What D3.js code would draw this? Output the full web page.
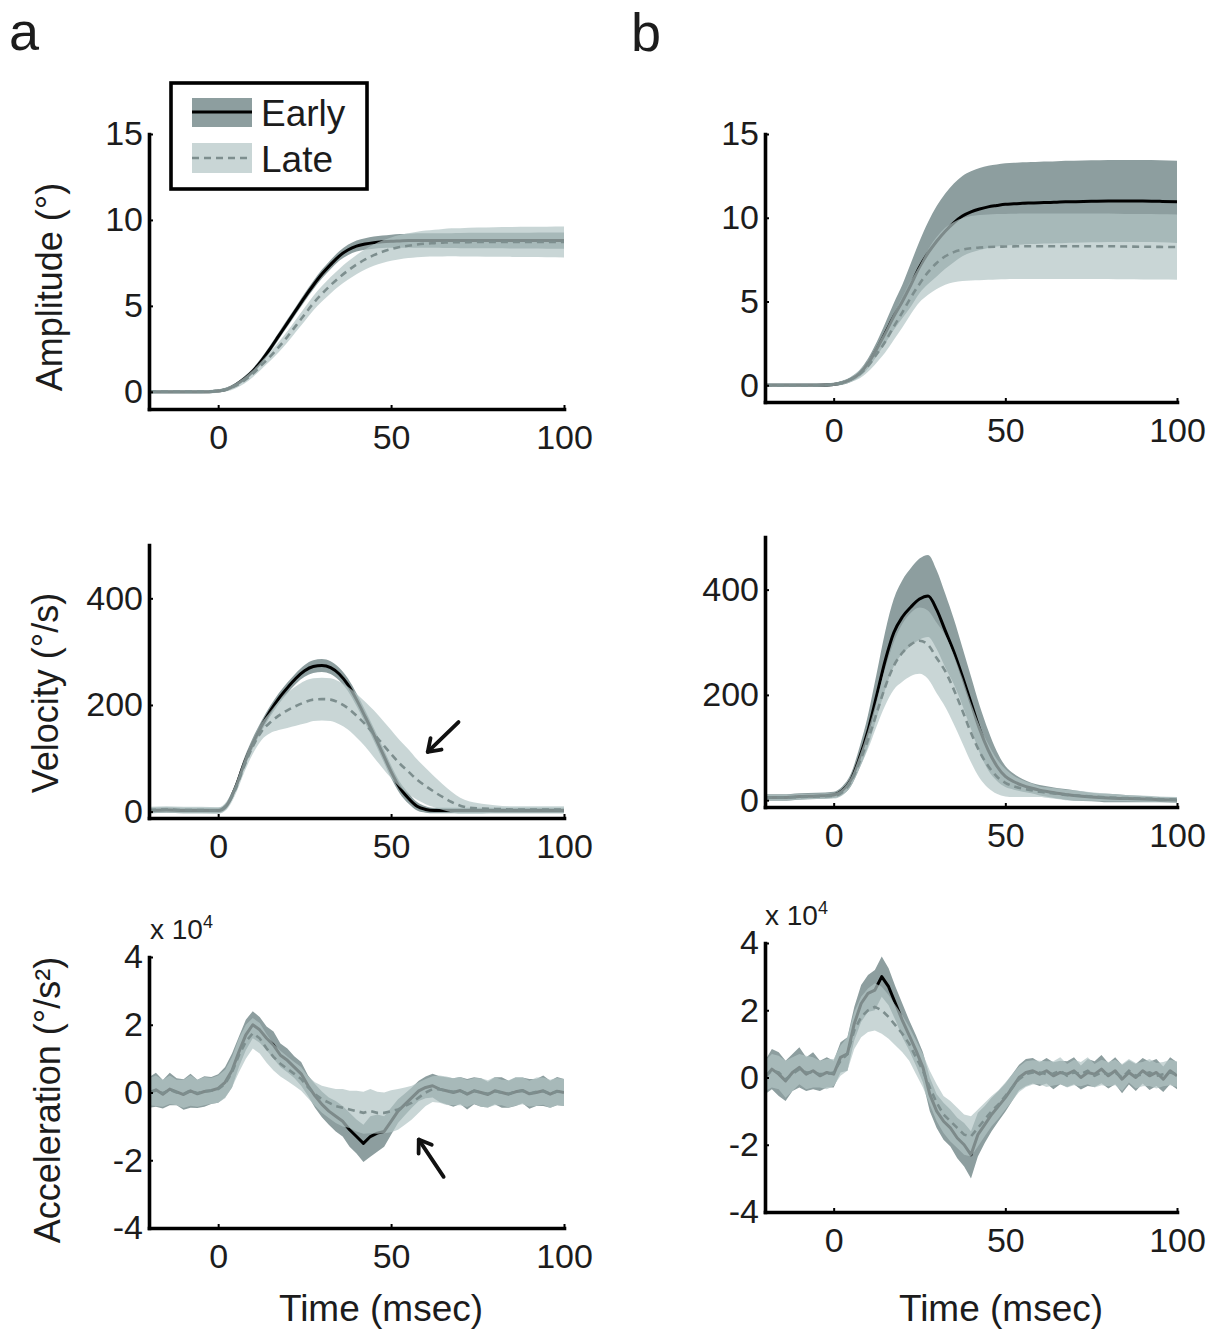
<!DOCTYPE html>
<html><head><meta charset="utf-8">
<script src="https://cdn.jsdelivr.net/npm/d3@7"></script>
<style>
body{margin:0;background:#fff}
svg{display:block}
text{font-family:"Liberation Sans",Arial,Helvetica,sans-serif;fill:#1c1c1c}
</style>
</head><body>
<svg id="c" width="1223" height="1332"></svg>
<script>
// ---------- time grids (msec) ----------
const tAV = [-20,-15,-10,-5,0,2.5,5,7.5,10,12.5,15,17.5,20,22.5,25,27.5,30,32.5,35,37.5,40,42.5,45,47.5,50,52.5,55,57.5,60,62.5,65,67.5,70,75,80,85,90,95,100];
const tAcc = [-20,-18,-16,-14,-12,-10,-8,-6,-4,-2,0,2,4,6,8,10,12,14,16,18,20,22,24,26,28,30,32,34,36,38,40,42,44,46,48,50,52,54,56,58,60,62,64,66,68,70,72,74,76,78,80,82,84,86,88,90,92,94,96,98,100];

// ---------- tick labels ----------
const xTicks = [0,50,100];
const ampTicks = [0,5,10,15];
const velTicks = [0,200,400];
const accTicks = [-4,-2,0,2,4];

// ---------- panel a: amplitude (deg) ----------
const ampA_early    = [0,0,0,0, 0.05,0.15,0.4,0.75,1.2,1.8,2.5,3.25,4.0,4.75,5.5,6.2,6.85,7.4,7.9,8.25,8.48,8.6,8.68,8.73,8.76,8.78,8.8,8.8,8.8,8.8,8.8,8.8,8.8, 8.8,8.8,8.8,8.8,8.8,8.8];
const ampA_earlySd  = [0.08,0.08,0.08,0.08, 0.08,0.1,0.12,0.14,0.16,0.18,0.2,0.2,0.22,0.22,0.24,0.25,0.26,0.27,0.28,0.3,0.32,0.33,0.35,0.36,0.38,0.4,0.4,0.42,0.42,0.42,0.43,0.43,0.44, 0.45,0.45,0.46,0.46,0.47,0.47];
const ampA_late     = [0,0,0,0, 0.05,0.15,0.35,0.65,1.05,1.55,2.05,2.6,3.2,3.85,4.5,5.15,5.7,6.2,6.65,7.05,7.4,7.7,7.95,8.15,8.3,8.42,8.5,8.57,8.62,8.65,8.68,8.7,8.7, 8.72,8.72,8.72,8.72,8.72,8.72];
const ampA_lateSd   = [0.1,0.1,0.1,0.1, 0.1,0.12,0.15,0.18,0.2,0.23,0.26,0.3,0.33,0.36,0.39,0.42,0.45,0.48,0.5,0.53,0.56,0.59,0.62,0.65,0.68,0.7,0.72,0.74,0.76,0.78,0.8,0.81,0.82, 0.84,0.86,0.87,0.88,0.89,0.9];

// ---------- panel b: amplitude (deg) ----------
const ampB_early    = [0,0,0,0, 0.05,0.15,0.35,0.7,1.3,2.15,3.1,4.1,5.0,6.0,7.05,7.9,8.6,9.2,9.7,10.1,10.35,10.52,10.65,10.73,10.8,10.83,10.86,10.88,10.9,10.91,10.93,10.95,10.96, 10.98,11.0,11.0,11.0,10.98,10.95];
const ampB_earlySd  = [0.1,0.1,0.1,0.1, 0.1,0.12,0.15,0.2,0.3,0.42,0.6,0.8,1.0,1.3,1.55,1.85,2.1,2.25,2.35,2.4,2.43,2.45,2.45,2.45,2.45,2.45,2.45,2.45,2.45,2.45,2.45,2.45,2.45, 2.45,2.45,2.45,2.45,2.45,2.45];
const ampB_late     = [0,0,0,0, 0.05,0.15,0.35,0.65,1.15,1.85,2.6,3.5,4.35,5.25,6.05,6.75,7.3,7.7,7.95,8.1,8.18,8.22,8.25,8.27,8.28,8.29,8.3,8.3,8.3,8.3,8.3,8.3,8.3, 8.3,8.3,8.28,8.27,8.26,8.25];
const ampB_lateSd   = [0.1,0.1,0.1,0.1, 0.1,0.12,0.15,0.25,0.35,0.5,0.65,0.8,0.9,1.0,1.1,1.35,1.55,1.7,1.8,1.87,1.92,1.95,1.95,1.95,1.95,1.95,1.95,1.95,1.95,1.95,1.95,1.95,1.95, 1.95,1.95,1.95,1.95,1.95,1.95];

// ---------- panel a: velocity (deg/s) ----------
const velA_early    = [2,3,2,2, 2,12,45,90,128,160,188,212,232,250,264,272,274,270,258,238,210,178,145,110,75,45,25,10,4,2,2,2,2, 2,2,2,2,2,2];
const velA_earlySd  = [5,5,5,5, 5,6,8,10,10,10,10,10,10,10,11,12,12,12,12,12,12,12,12,12,12,11,10,8,6,5,5,5,5, 5,5,5,5,5,5];
const velA_late     = [3,4,3,3, 2,12,42,85,122,150,167,180,190,198,205,210,211,210,204,194,180,164,146,127,108,90,75,60,48,37,27,18,11, 6,5,4,4,4,4];
const velA_lateSd   = [6,6,6,6, 6,8,10,12,14,16,20,27,33,37,40,40,40,40,40,40,41,42,44,45,45,44,42,38,34,29,24,19,15, 10,7,6,6,6,6];

// ---------- panel b: velocity (deg/s) ----------
const velB_early    = [5,5,7,8, 10,18,38,80,132,198,265,318,348,367,382,388,362,322,282,235,185,135,95,65,45,35,28,23,19,16,13,11,9, 6,4,3,2,1,0];
const velB_earlySd  = [6,6,6,6, 6,8,12,20,30,42,55,64,70,74,77,78,75,70,62,55,50,45,38,28,20,15,12,10,10,10,10,10,10, 8,8,7,6,5,5];
const velB_late     = [5,5,6,7, 8,15,35,72,115,165,215,255,280,296,303,295,270,245,210,170,128,92,65,45,33,26,22,19,16,14,12,10,9, 7,5,4,3,2,1];
const velB_lateSd   = [5,5,5,5, 5,6,8,12,18,25,35,45,55,60,63,65,67,68,66,62,56,50,42,33,26,20,16,13,10,10,10,10,10, 8,7,6,6,5,5];

// ---------- panel a: acceleration (x10^4 deg/s^2) ----------
const accA_early   = [0.0,0.08,-0.05,0.1,0.02,-0.06,0.05,-0.04,0.03,0.06, 0.12,0.3,0.65,1.2,1.7,2.0,1.85,1.6,1.4,1.1, 0.95,0.75,0.55,0.2,-0.1,-0.35,-0.55,-0.7,-0.85,-1.1, -1.3,-1.5,-1.3,-1.2,-1.15,-0.85,-0.55,-0.35,-0.15,0.05, 0.15,0.2,0.1,0.05,0.0,0.06,-0.05,0.05,0.0,-0.06, 0.05,0.0,-0.05,0.02,0.06,-0.04,0.0,0.05,-0.05,0.04, 0.0];
const accA_earlySd = [0.45,0.5,0.42,0.48,0.4,0.45,0.5,0.42,0.45,0.4, 0.42,0.45,0.5,0.45,0.45,0.4,0.38,0.35,0.4,0.35, 0.35,0.32,0.35,0.3,0.35,0.38,0.4,0.45,0.45,0.5, 0.5,0.55,0.6,0.55,0.45,0.4,0.35,0.32,0.3,0.3, 0.32,0.35,0.38,0.4,0.42,0.4,0.45,0.4,0.42,0.38, 0.4,0.45,0.4,0.42,0.38,0.44,0.4,0.45,0.4,0.42, 0.4];
const accA_late    = [0.02,0.05,-0.02,0.08,0.0,-0.04,0.06,-0.02,0.04,0.05, 0.1,0.25,0.6,1.1,1.5,1.75,1.6,1.3,1.05,0.85, 0.7,0.55,0.4,0.15,-0.05,-0.2,-0.3,-0.4,-0.45,-0.5, -0.55,-0.6,-0.55,-0.6,-0.6,-0.55,-0.5,-0.4,-0.3,-0.15, 0.0,0.1,0.1,0.05,0.02,0.04,-0.03,0.05,0.0,-0.04, 0.04,0.0,-0.04,0.03,0.05,-0.03,0.02,0.04,-0.04,0.03, 0.0];
const accA_lateSd  = [0.4,0.45,0.4,0.42,0.38,0.42,0.45,0.4,0.42,0.38, 0.4,0.42,0.45,0.5,0.5,0.45,0.45,0.42,0.4,0.38, 0.36,0.35,0.35,0.32,0.35,0.4,0.45,0.5,0.55,0.55, 0.6,0.62,0.65,0.62,0.6,0.62,0.6,0.55,0.5,0.45, 0.4,0.38,0.4,0.42,0.4,0.42,0.4,0.38,0.42,0.4, 0.42,0.38,0.4,0.42,0.4,0.38,0.42,0.4,0.42,0.4, 0.4];

// ---------- panel b: acceleration (x10^4 deg/s^2) ----------
const accB_early   = [0.0,0.25,0.1,-0.1,0.15,0.3,0.1,0.2,0.05,0.15, 0.1,0.6,0.7,1.6,2.2,2.5,2.6,3.0,2.7,2.2, 1.7,1.25,0.8,0.3,-0.5,-1.0,-1.3,-1.5,-1.8,-2.0, -2.3,-1.7,-1.4,-1.1,-0.85,-0.6,-0.3,0.0,0.15,0.2, 0.1,0.2,0.05,0.15,0.1,0.2,0.0,0.15,0.1,0.25, 0.05,0.2,-0.05,0.15,0.0,0.2,0.05,0.15,-0.05,0.2, 0.05];
const accB_earlySd = [0.5,0.6,0.65,0.6,0.55,0.6,0.5,0.55,0.45,0.45, 0.4,0.45,0.5,0.5,0.55,0.55,0.6,0.6,0.55,0.5, 0.5,0.45,0.45,0.45,0.5,0.5,0.55,0.55,0.6,0.65, 0.7,0.65,0.55,0.5,0.45,0.42,0.4,0.38,0.4,0.38, 0.35,0.38,0.4,0.35,0.38,0.4,0.36,0.4,0.38,0.42, 0.38,0.4,0.42,0.36,0.4,0.38,0.42,0.4,0.38,0.4, 0.4];
const accB_late    = [0.05,0.2,0.15,-0.05,0.1,0.25,0.15,0.15,0.1,0.1, 0.15,0.5,0.7,1.4,1.8,2.0,2.1,2.0,1.8,1.55, 1.3,1.0,0.6,0.2,-0.3,-0.75,-1.1,-1.3,-1.5,-1.7, -1.75,-1.5,-1.25,-1.0,-0.8,-0.55,-0.3,-0.05,0.1,0.15, 0.15,0.1,0.12,0.2,0.05,0.15,0.1,0.2,0.05,0.15, 0.1,0.15,0.0,0.2,0.05,0.1,0.15,0.05,0.1,0.15, 0.1];
const accB_lateSd  = [0.45,0.5,0.5,0.55,0.5,0.45,0.5,0.45,0.4,0.45, 0.4,0.45,0.5,0.55,0.6,0.65,0.7,0.7,0.65,0.6, 0.55,0.5,0.5,0.5,0.5,0.55,0.55,0.6,0.6,0.6, 0.6,0.55,0.5,0.45,0.42,0.4,0.4,0.38,0.38,0.36, 0.35,0.38,0.36,0.4,0.35,0.38,0.36,0.4,0.35,0.38, 0.36,0.38,0.4,0.35,0.38,0.36,0.4,0.38,0.36,0.38, 0.38];

// ---------- labels ----------
const legendLabels = ["Early","Late"];
const yTitles = ["Amplitude (°)","Velocity (°/s)","Acceleration (°/s²)"];
const xTitle = "Time (msec)";

// ---------- styling ----------
const EARLY_FILL = "#8d9e9f";
const LATE_FILL = "#b2c4c4";
const LATE_OP = 0.7;
const LATE_LINE = "#7d8e8e";

const svg = d3.select("#c");

const L = [149,564], R = [765,1177];
const panels = [
  {id:"a1", t:tAV, e:ampA_early, es:ampA_earlySd, l:ampA_late, ls:ampA_lateSd, xr:L, yd:[-1,15], yr:[409,134], yt:ampTicks, curve:d3.curveMonotoneX},
  {id:"b1", t:tAV, e:ampB_early, es:ampB_earlySd, l:ampB_late, ls:ampB_lateSd, xr:R, yd:[-1,15], yr:[402,134], yt:ampTicks, curve:d3.curveMonotoneX},
  {id:"a2", t:tAV, e:velA_early, es:velA_earlySd, l:velA_late, ls:velA_lateSd, xr:L, yd:[-12,500], yr:[818,545], yt:velTicks, curve:d3.curveMonotoneX},
  {id:"b2", t:tAV, e:velB_early, es:velB_earlySd, l:velB_late, ls:velB_lateSd, xr:R, yd:[-13,500], yr:[807,537], yt:velTicks, curve:d3.curveMonotoneX},
  {id:"a3", t:tAcc, e:accA_early, es:accA_earlySd, l:accA_late, ls:accA_lateSd, xr:L, yd:[-4,4], yr:[1228,957], yt:accTicks, curve:d3.curveLinear},
  {id:"b3", t:tAcc, e:accB_early, es:accB_earlySd, l:accB_late, ls:accB_lateSd, xr:R, yd:[-4,4], yr:[1212,943], yt:accTicks, curve:d3.curveLinear}
];

const defs = svg.append("defs");
const scales = {};

panels.forEach(p => {
  const x = d3.scaleLinear().domain([-20,100]).range(p.xr);
  const y = d3.scaleLinear().domain(p.yd).range(p.yr);
  scales[p.id] = {x,y};
  defs.append("clipPath").attr("id","clip"+p.id).append("rect")
    .attr("x",p.xr[0]).attr("y",p.yr[1]).attr("width",p.xr[1]-p.xr[0]).attr("height",p.yr[0]-p.yr[1]);
  const g = svg.append("g");
  const plot = g.append("g").attr("clip-path",`url(#clip${p.id})`);
  const area = (m,s) => d3.area().x((d,i)=>x(p.t[i])).y0((d,i)=>y(m[i]-s[i])).y1((d,i)=>y(m[i]+s[i])).curve(p.curve)(m);
  const line = m => d3.line().x((d,i)=>x(p.t[i])).y(d=>y(d)).curve(p.curve)(m);
  plot.append("path").attr("d",area(p.e,p.es)).attr("fill",EARLY_FILL);
  plot.append("path").attr("d",line(p.e)).attr("fill","none").attr("stroke","#000").attr("stroke-width",3).attr("stroke-linejoin","round");
  plot.append("path").attr("d",area(p.l,p.ls)).attr("fill",LATE_FILL).attr("fill-opacity",LATE_OP);
  plot.append("path").attr("d",line(p.l)).attr("fill","none").attr("stroke",LATE_LINE).attr("stroke-width",2.6).attr("stroke-dasharray","7,5");

  const xa = g.append("g").attr("transform",`translate(0,${p.yr[0]})`)
    .call(d3.axisBottom(x).tickValues(xTicks).tickSize(-4).tickSizeOuter(0).tickPadding(16).tickFormat(d=>String(d)));
  const ya = g.append("g").attr("transform",`translate(${p.xr[0]},0)`)
    .call(d3.axisLeft(y).tickValues(p.yt).tickSize(-4).tickSizeOuter(0).tickPadding(6).tickFormat(d=>String(d)));
  [xa,ya].forEach(a=>{
    a.select(".domain").attr("stroke","#000").attr("stroke-width",3.6).attr("stroke-linecap","square");
    a.selectAll(".tick line").attr("stroke","#000").attr("stroke-width",2);
    a.selectAll(".tick text").attr("font-size",34).attr("fill","#1c1c1c").attr("font-family",null);
  });
});

// y-axis titles (left column)
const titleY = [[62,287],[58,693],[60,1100]];
yTitles.forEach((t,i)=>{
  svg.append("text").attr("transform",`translate(${titleY[i][0]},${titleY[i][1]}) rotate(-90)`)
    .attr("text-anchor","middle").attr("font-size",36).text(t);
});
// x-axis titles
[[381,1321],[1001,1321]].forEach(([cx,cy])=>{
  svg.append("text").attr("x",cx).attr("y",cy).attr("text-anchor","middle").attr("font-size",37).text(xTitle);
});
// exponent labels
[[150,939],[765,925]].forEach(([ex,ey])=>{
  const tx = svg.append("text").attr("x",ex).attr("y",ey).attr("font-size",28);
  tx.append("tspan").text("x 10");
  tx.append("tspan").attr("dy",-11).attr("font-size",18).text("4");
});
// panel letters
svg.append("text").attr("x",9).attr("y",50).attr("font-size",54).text("a");
svg.append("text").attr("x",631).attr("y",51).attr("font-size",54).text("b");

// legend
const lg = svg.append("g");
lg.append("rect").attr("x",171).attr("y",83).attr("width",196).attr("height",106).attr("fill","#fff").attr("stroke","#000").attr("stroke-width",3.6);
lg.append("rect").attr("x",192).attr("y",98).attr("width",60).attr("height",29).attr("fill",EARLY_FILL);
lg.append("line").attr("x1",192).attr("x2",252).attr("y1",112).attr("y2",112).attr("stroke","#000").attr("stroke-width",3);
lg.append("rect").attr("x",192).attr("y",143).attr("width",60).attr("height",30).attr("fill",LATE_FILL).attr("fill-opacity",LATE_OP);
lg.append("line").attr("x1",192).attr("x2",252).attr("y1",158).attr("y2",158).attr("stroke",LATE_LINE).attr("stroke-width",2.6).attr("stroke-dasharray","7,5");
lg.append("text").attr("x",261).attr("y",126).attr("font-size",37).text(legendLabels[0]);
lg.append("text").attr("x",261).attr("y",172).attr("font-size",37).text(legendLabels[1]);

// arrows (data coordinates: [tail t, tail v, head t, head v])
function arrow(id, tail, head){
  const {x,y} = scales[id];
  const x1=x(tail[0]), y1=y(tail[1]), x2=x(head[0]), y2=y(head[1]);
  const ang = Math.atan2(y1-y2, x1-x2), h=14, w=0.6;
  const p1=[x2+h*Math.cos(ang+w), y2+h*Math.sin(ang+w)], p2=[x2+h*Math.cos(ang-w), y2+h*Math.sin(ang-w)];
  svg.append("line").attr("x1",x1).attr("y1",y1).attr("x2",x2).attr("y2",y2).attr("stroke","#111").attr("stroke-width",3.8).attr("stroke-linecap","round");
  svg.append("path").attr("d",`M${p1}L${x2},${y2}L${p2}`).attr("fill","none").attr("stroke","#111").attr("stroke-width",3.8).attr("stroke-linecap","round").attr("stroke-linejoin","round");
}
arrow("a2",[69.5,168],[60.6,112]);
arrow("a3",[65.2,-2.49],[58,-1.39]);
</script>
</body></html>
